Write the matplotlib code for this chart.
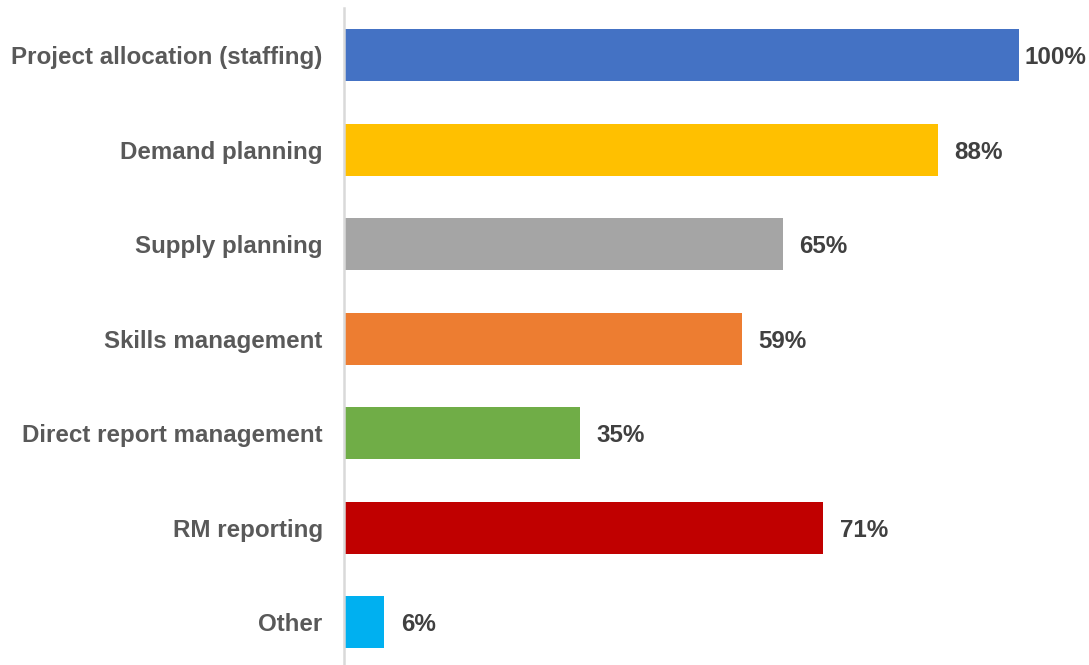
import matplotlib
matplotlib.use("Agg")
import matplotlib.pyplot as plt

categories = ["Project allocation (staffing)", "Demand planning", "Supply planning",
              "Skills management", "Direct report management", "RM reporting", "Other"]
values = [100, 88, 65, 59, 35, 71, 6]
labels = ["100%", "88%", "65%", "59%", "35%", "71%", "6%"]
colors = ["#4472C4", "#FFC000", "#A5A5A5", "#ED7D31", "#70AD47", "#C00000", "#00B0F0"]

plt.rcParams['font.family'] = ['Liberation Sans', 'DejaVu Sans']

fig = plt.figure(figsize=(10.89, 6.65), dpi=100)
ax = fig.add_axes([343.5/1089, 0.0, (1019-343.5)/1089, 1 - 8/665])

y = list(range(len(categories)))
ax.barh(y, values, height=0.55, color=colors)
ax.set_xlim(0, 100)
ax.set_ylim(6.45, -0.5)

ax.set_yticks(y)
ax.set_yticklabels(categories, fontsize=17.4, fontweight='bold', color='#595959',
                   va='center_baseline')
ax.tick_params(axis='y', length=0, pad=15)
ax.set_xticks([])

for s in ['top', 'right', 'bottom']:
    ax.spines[s].set_visible(False)
ax.spines['left'].set_color('#D9D9D9')
ax.spines['left'].set_linewidth(1.8)

vmax = max(values)
for yi, v, lab in zip(y, values, labels):
    off = 4 if v == vmax else 12
    ax.annotate(lab, (v, yi), xytext=(off, 0), textcoords='offset points',
                ha='left', va='center_baseline', fontsize=17.4, fontweight='bold',
                color='#404040', annotation_clip=False)

fig.savefig("out.png", dpi=100)
